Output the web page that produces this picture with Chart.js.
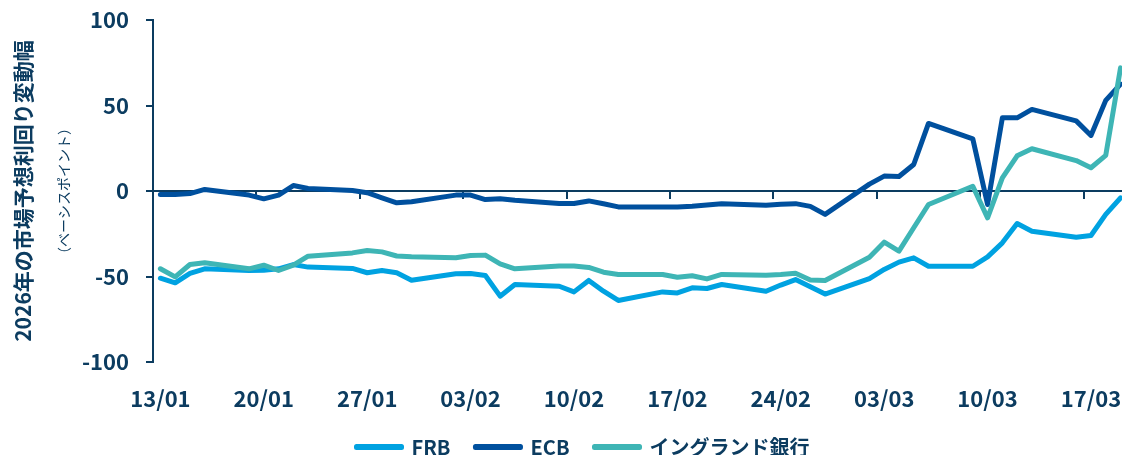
<!DOCTYPE html>
<html>
<head>
<meta charset="utf-8">
<title>2026年の市場予想利回り変動幅</title>
<script src="https://cdn.jsdelivr.net/npm/chart.js@4.4.1/dist/chart.umd.min.js"></script>
<style>
  html, body { margin: 0; padding: 0; background: #fff; overflow: hidden; }
</style>
</head>
<body>
<canvas id="rateChart" width="1122" height="455"></canvas>
<script>
var navy = '#0c3c60';
var fontFamily = "'Noto Sans CJK JP', 'Noto Sans', sans-serif";

// business days (dd/mm, 2026)
var dates = ['13/01','14/01','15/01','16/01','19/01','20/01','21/01','22/01','23/01','26/01','27/01','28/01','29/01','30/01',
  '02/02','03/02','04/02','05/02','06/02','09/02','10/02','11/02','12/02','13/02','16/02','17/02','18/02','19/02','20/02',
  '23/02','24/02','25/02','26/02','27/02',
  '02/03','03/03','04/03','05/03','06/03','09/03','10/03','11/03','12/03','13/03','16/03','17/03','18/03','19/03'];

// change in 2026 rate expectations, bp
var frb = [-51, -53.7, -48.2, -45.5, -46.5, -46.3, -45.5, -43, -44.5, -45.3, -47.8, -46.5, -47.8, -52.2,
  -48.4, -48.2, -49.4, -61.5, -54.7, -55.7, -59, -52.3, -58.6, -64, -59, -59.6, -56.6, -57, -54.7,
  -58.6, -55, -51.8, -56, -60.3,
  -51.3, -45.9, -41.6, -39.1, -44, -44, -38.5, -30.3, -19, -23.5, -27, -26, -13.7, -4];
var ecb = [-2, -2, -1.5, 0.9, -2.4, -4.6, -2.4, 3.2, 1.5, 0.3, -1, -4, -6.9, -6.3,
  -2.4, -2.4, -5, -4.5, -5.4, -7.3, -7.3, -5.8, -7.5, -9.3, -9.3, -9.4, -8.9, -8.2, -7.5,
  -8.3, -7.8, -7.4, -9, -13.7,
  4, 8.7, 8.5, 15.5, 39.5, 30.5, -7.9, 42.8, 42.8, 47.7, 41, 32.5, 53, 62.5];
var boe = [-45.5, -50.2, -43, -42, -45.5, -43.4, -46.5, -43.4, -38.1, -36.2, -34.8, -35.6, -38, -38.5,
  -39, -37.7, -37.5, -42.6, -45.5, -43.8, -43.8, -44.7, -47.5, -48.8, -48.8, -50.4, -49.6, -51.4, -48.8,
  -49.2, -48.8, -48.1, -52, -52.3,
  -38.7, -29.9, -35.2, -21.5, -7.9, 2.8, -15.7, 7.7, 20.6, 24.7, 17.8, 13.6, 20.8, 72];

var tickLabels = ['13/01','20/01','27/01','03/02','10/02','17/02','24/02','03/03','10/03','17/03'];

// days since 13/01
function dayIndex(label) {
  var p = label.split('/');
  return (Date.UTC(2026, +p[1] - 1, +p[0]) - Date.UTC(2026, 0, 13)) / 86400000;
}

function points(values) {
  return values.map(function(v, i) { return { x: dayIndex(dates[i]), y: v }; });
}

var tickDays = tickLabels.map(dayIndex);
var xMin = -0.5;
var xMax = dayIndex(dates[dates.length - 1]) + 0.1;

function line(label, values, color, order) {
  return {
    label: label,
    data: points(values),
    borderColor: color,
    backgroundColor: color,
    borderWidth: 5,
    borderCapStyle: 'round',
    borderJoinStyle: 'round',
    pointRadius: 0,
    tension: 0,
    order: order,
    xAxisID: 'x',
    yAxisID: 'y'
  };
}

// legend sits a bit right of the page centre in the original
var legendShift = {
  id: 'legendShift',
  afterLayout: function(chart) {
    chart.legend.left += 22;
    chart.legend.right += 22;
  }
};

var ctx = document.getElementById('rateChart');
var rateChart = new Chart(ctx, {
  type: 'line',
  data: {
    datasets: [
      line('FRB', frb, '#00a2e1', 3),
      line('ECB', ecb, '#00509e', 2),
      line('イングランド銀行', boe, '#3eb5b5', 1)
    ]
  },
  options: {
    responsive: false,
    animation: false,
    layout: { padding: { top: 20, right: 0, bottom: 0, left: 0 } },
    font: { family: fontFamily },
    scales: {
      // axis line on zero with weekly tick marks
      x: {
        type: 'linear',
        position: { y: 0 },
        min: xMin,
        max: xMax,
        afterBuildTicks: function(scale) {
          scale.ticks = tickDays.map(function(d) { return { value: d - 0.5 }; });
        },
        ticks: { display: false },
        grid: { drawOnChartArea: false, drawTicks: true, tickLength: 7, color: navy, lineWidth: 2 },
        border: { color: navy, width: 2 }
      },
      // date labels under the plot
      x2: {
        type: 'linear',
        position: 'bottom',
        min: xMin,
        max: xMax,
        afterBuildTicks: function(scale) {
          scale.ticks = tickDays.map(function(d) { return { value: d }; });
        },
        afterFit: function(scale) {
          scale.height = 50;
          scale.paddingLeft = 0;
          scale.paddingRight = 0;
        },
        ticks: {
          color: navy,
          font: { family: fontFamily, size: 22, weight: 'bold' },
          padding: 23,
          maxRotation: 0,
          autoSkip: false,
          callback: function(v) { return tickLabels[tickDays.indexOf(v)]; }
        },
        grid: { display: false, drawTicks: false },
        border: { display: false }
      },
      y: {
        position: 'left',
        min: -100,
        max: 100,
        afterFit: function(scale) {
          scale.width = 105;
          scale.paddingTop = 0;
          scale.paddingBottom = 0;
        },
        ticks: {
          stepSize: 50,
          color: navy,
          font: { family: fontFamily, size: 22, weight: 'bold' },
          padding: 17
        },
        grid: { drawOnChartArea: false, tickLength: 7, color: navy, lineWidth: 2 },
        border: { color: navy, width: 2 },
        title: {
          display: true,
          text: '（ベーシスポイント）',
          color: navy,
          font: { family: fontFamily, size: 14 },
          padding: { top: 7, bottom: 0 }
        }
      },
      // outer axis only carries the main title
      yTitle: {
        type: 'linear',
        position: 'left',
        weight: 1,
        afterFit: function(scale) { scale.width = 48; },
        ticks: { display: false },
        grid: { display: false, drawTicks: false },
        border: { display: false },
        title: {
          display: true,
          text: '2026年の市場予想利回り変動幅',
          color: navy,
          font: { family: fontFamily, size: 21, weight: 'bold' },
          padding: { top: 10, bottom: 0 }
        }
      }
    },
    plugins: {
      legend: {
        position: 'bottom',
        maxHeight: 43,
        labels: {
          boxWidth: 45,
          boxHeight: 1,
          padding: 25,
          color: navy,
          font: { family: fontFamily, size: 20, weight: 'bold' },
          sort: function(a, b) { return a.datasetIndex - b.datasetIndex; }
        }
      },
      tooltip: { enabled: false }
    }
  },
  plugins: [legendShift]
});
</script>
</body>
</html>
